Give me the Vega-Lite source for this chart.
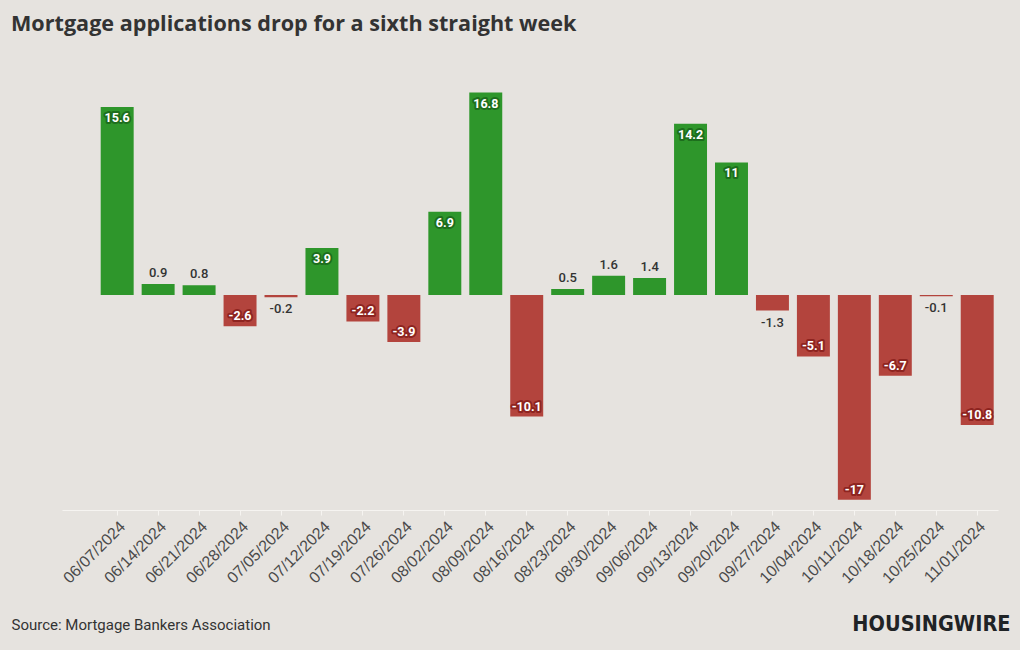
{
  "$schema": "https://vega.github.io/schema/vega-lite/v6.json",
  "autosize": {"type": "none"},
  "width": 936,
  "height": 444,
  "padding": {"left": 62, "top": 66, "right": 22, "bottom": 140},
  "background": "#e6e3df",
  "config": {"view": {"stroke": null}},
  "title": {
    "text": "Mortgage applications drop for a sixth straight week",
    "anchor": "start",
    "frame": "group",
    "dx": -51,
    "offset": 30,
    "font": "Open Sans",
    "fontSize": 21.6,
    "fontWeight": 700,
    "color": "#333333"
  },
  "data": {
    "values": [
      {"date": "06/07/2024", "value": 15.6},
      {"date": "06/14/2024", "value": 0.9},
      {"date": "06/21/2024", "value": 0.8},
      {"date": "06/28/2024", "value": -2.6},
      {"date": "07/05/2024", "value": -0.2},
      {"date": "07/12/2024", "value": 3.9},
      {"date": "07/19/2024", "value": -2.2},
      {"date": "07/26/2024", "value": -3.9},
      {"date": "08/02/2024", "value": 6.9},
      {"date": "08/09/2024", "value": 16.8},
      {"date": "08/16/2024", "value": -10.1},
      {"date": "08/23/2024", "value": 0.5},
      {"date": "08/30/2024", "value": 1.6},
      {"date": "09/06/2024", "value": 1.4},
      {"date": "09/13/2024", "value": 14.2},
      {"date": "09/20/2024", "value": 11},
      {"date": "09/27/2024", "value": -1.3},
      {"date": "10/04/2024", "value": -5.1},
      {"date": "10/11/2024", "value": -17},
      {"date": "10/18/2024", "value": -6.7},
      {"date": "10/25/2024", "value": -0.1},
      {"date": "11/01/2024", "value": -10.8}
    ]
  },
  "encoding": {
    "x": {
      "field": "date",
      "type": "ordinal",
      "sort": null,
      "scale": {"paddingInner": 0.195, "paddingOuter": 0.525, "align": 0.9},
      "axis": {
        "title": "Source: Mortgage Bankers Association",
        "titleAnchor": "start",
        "titleX": -51,
        "titleY": 119,
        "titleAlign": "left",
        "titleBaseline": "alphabetic",
        "titleFont": "Roboto",
        "titleFontSize": 15,
        "titleFontWeight": 400,
        "titleColor": "#333333",
        "labelAngle": -45,
        "labelFont": "Liberation Sans",
        "labelFontSize": 16,
        "labelColor": "#4a4a4a",
        "labelPadding": 3,
        "domainColor": "#f6f4f1",
        "tickColor": "#f6f4f1",
        "tickSize": 5
      }
    },
    "y": {
      "field": "value",
      "type": "quantitative",
      "scale": {"domain": [-17.85, 19], "nice": false, "zero": true},
      "axis": {
        "title": "HOUSINGWIRE",
        "titleAngle": 0,
        "titleX": 948,
        "titleY": 564,
        "titleAlign": "right",
        "titleBaseline": "alphabetic",
        "titleFont": "DejaVu Sans Condensed",
        "titleFontSize": 21.5,
        "titleFontWeight": 900,
        "titleColor": "#1f2326",
        "labels": false,
        "ticks": false,
        "domain": false,
        "grid": false
      }
    }
  },
  "layer": [
    {
      "mark": {"type": "bar"},
      "encoding": {
        "color": {
          "condition": {"test": "datum.value > 0", "value": "#2e962b"},
          "value": "#b3443d"
        }
      }
    },
    {
      "transform": [{"filter": "datum.value >= 2"}],
      "mark": {"type": "text", "dy": 11, "baseline": "middle", "font": "Roboto", "fontSize": 12.5, "fontWeight": 700, "stroke": "#1d6e1d", "strokeWidth": 4, "strokeJoin": "round", "fill": "#1d6e1d"},
      "encoding": {"text": {"field": "value"}}
    },
    {
      "transform": [{"filter": "datum.value >= 2"}],
      "mark": {"type": "text", "dy": 11, "baseline": "middle", "font": "Roboto", "fontSize": 12.5, "fontWeight": 700, "fill": "#ffffff"},
      "encoding": {"text": {"field": "value"}}
    },
    {
      "transform": [{"filter": "datum.value <= -2"}],
      "mark": {"type": "text", "dy": -10, "baseline": "middle", "font": "Roboto", "fontSize": 12.5, "fontWeight": 700, "stroke": "#8e2420", "strokeWidth": 4, "strokeJoin": "round", "fill": "#8e2420"},
      "encoding": {"text": {"field": "value"}}
    },
    {
      "transform": [{"filter": "datum.value <= -2"}],
      "mark": {"type": "text", "dy": -10, "baseline": "middle", "font": "Roboto", "fontSize": 12.5, "fontWeight": 700, "fill": "#ffffff"},
      "encoding": {"text": {"field": "value"}}
    },
    {
      "transform": [{"filter": "datum.value > 0 && datum.value < 2"}],
      "mark": {"type": "text", "dy": -11, "baseline": "middle", "font": "Roboto", "fontSize": 13, "fontWeight": 500, "fill": "#333333"},
      "encoding": {"text": {"field": "value"}}
    },
    {
      "transform": [{"filter": "datum.value < 0 && datum.value > -2"}],
      "mark": {"type": "text", "dy": 12, "baseline": "middle", "font": "Roboto", "fontSize": 13, "fontWeight": 500, "fill": "#333333"},
      "encoding": {"text": {"field": "value"}}
    }
  ]
}
